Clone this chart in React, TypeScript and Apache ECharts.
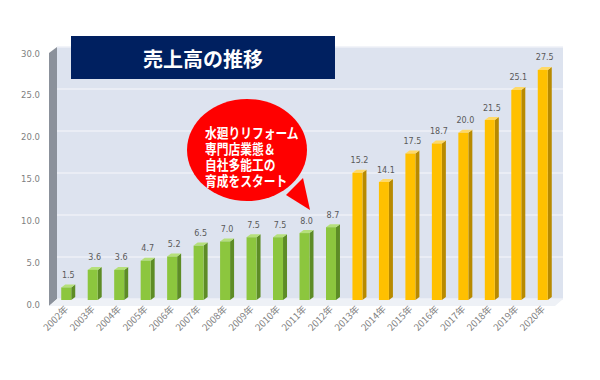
import React, { useEffect, useRef } from "react";
import * as echarts from "echarts";

const categories = ["2002年","2003年","2004年","2005年","2006年","2007年","2008年","2009年","2010年","2011年","2012年","2013年","2014年","2015年","2016年","2017年","2018年","2019年","2020年"];
const sales = [1.5, 3.6, 3.6, 4.7, 5.2, 6.5, 7.0, 7.5, 7.5, 8.0, 8.7, 15.2, 14.1, 17.5, 18.7, 20.0, 21.5, 25.1, 27.5];
const greenUntil = 11; // first 11 years green, rest orange
const yTicks = [0, 5, 10, 15, 20, 25, 30];
const title = "売上高の推移";
const bubbleLines = ["水廻りリフォーム", "専門店業態＆", "自社多能工の", "育成をスタート"];

const FONT = "'Noto Sans CJK JP', 'Noto Sans', sans-serif";

export default function App() {
  const ref = useRef<HTMLDivElement>(null);
  useEffect(() => {
    document.body.style.margin = "0";
    const chart = echarts.init(ref.current!, null, { renderer: "svg" });
    const palettes = {
      green: { front: "#8cc63e", side: "#5d8c26", top: "#b5e07a" },
      orange: { front: "#ffc000", side: "#b88a00", top: "#ffd966" },
    };
    const option: any = {
      animation: false,
      backgroundColor: "#ffffff",
      textStyle: { fontFamily: FONT },
      grid: [
        { left: 57, right: 37, top: 47, bottom: 81, show: true, backgroundColor: "#dde3ef", borderWidth: 0 },
        { left: 53, right: 44, top: 49, bottom: 80 },
      ],
      xAxis: [
        { gridIndex: 0, type: "category", data: categories, show: false },
        {
          gridIndex: 1,
          type: "category",
          data: categories,
          axisLine: { show: false },
          axisTick: { show: false },
          axisLabel: { rotate: 45, fontSize: 9.5, color: "#7f7f7f", margin: 7, interval: 0, fontFamily: FONT },
        },
      ],
      yAxis: [
        {
          gridIndex: 0, type: "value", min: 0, max: 30, interval: 5,
          axisLabel: { show: false }, axisLine: { show: false }, axisTick: { show: false },
          splitLine: { show: true, lineStyle: { color: "#eef1f7", width: 1.5 } },
        },
        {
          gridIndex: 1, type: "value", min: yTicks[0], max: yTicks[yTicks.length - 1], interval: 5,
          axisLine: { show: false }, axisTick: { show: false }, splitLine: { show: false },
          axisLabel: {
            fontSize: 8.5, color: "#7f7f7f", margin: 13, verticalAlign: "top",
            formatter: (v: number) => v.toFixed(1), fontFamily: "'DejaVu Sans', sans-serif",
          },
        },
      ],
      series: [
        {
          type: "custom",
          xAxisIndex: 1,
          yAxisIndex: 1,
          data: sales.map((v, i) => [i, v]),
          renderItem: (params: any, api: any) => {
            const idx = api.value(0);
            const val = api.value(1);
            const top = api.coord([idx, val]);
            const base = api.coord([idx, 0]);
            const w = 10;
            const dx = 4;
            const dy = 3;
            const x0 = top[0] - w / 2;
            const x1 = top[0] + w / 2;
            const pal = idx < greenUntil ? palettes.green : palettes.orange;
            return {
              type: "group",
              children: [
                {
                  type: "polygon",
                  shape: { points: [[x1, top[1]], [x1 + dx, top[1] - dy], [x1 + dx, base[1] - dy], [x1, base[1]]] },
                  style: { fill: pal.side },
                },
                {
                  type: "polygon",
                  shape: { points: [[x0, top[1]], [x0 + dx, top[1] - dy], [x1 + dx, top[1] - dy], [x1, top[1]]] },
                  style: { fill: pal.top },
                },
                {
                  type: "rect",
                  shape: { x: x0, y: top[1], width: w, height: base[1] - top[1] },
                  style: { fill: pal.front },
                },
                {
                  type: "text",
                  x: top[0] + 2,
                  y: top[1] - 12,
                  style: {
                    text: val.toFixed(1), fill: "#595959", fontSize: 8,
                    fontFamily: "'DejaVu Sans', sans-serif", align: "center", verticalAlign: "middle",
                  },
                },
              ],
            };
          },
        },
      ],
      graphic: [
        {
          type: "polygon", z: 0,
          shape: { points: [[49, 53], [57, 47], [57, 299], [49, 306]] },
          style: { fill: "#8b919b" },
        },
        {
          type: "polygon", z: 0,
          shape: { points: [[49, 306], [57, 299], [563, 299], [555, 306]] },
          style: { fill: "#eef1f6" },
        },
        {
          type: "rect", z: 10,
          shape: { x: 71, y: 36, width: 264, height: 43 },
          style: { fill: "#002060" },
        },
        {
          type: "text", z: 11, x: 203, y: 58,
          style: {
            text: title, fill: "#ffffff", fontSize: 20, fontWeight: "bold", fontFamily: FONT,
            align: "center", verticalAlign: "middle",
          },
        },
        {
          type: "polygon", z: 10,
          shape: { points: [[286, 195], [303, 178], [310, 210]] },
          style: { fill: "#ff0000" },
        },
        {
          type: "ellipse", z: 10,
          shape: { cx: 247, cy: 150, rx: 60, ry: 51 },
          style: { fill: "#ff0000" },
        },
        {
          type: "text", z: 11, x: 205, y: 124, scaleX: 0.84,
          style: {
            text: bubbleLines.join("\n"), fill: "#ffffff", fontSize: 14, lineHeight: 16,
            fontWeight: "bold", fontFamily: FONT, align: "left", verticalAlign: "top",
          },
        },
      ],
    };
    chart.setOption(option);
    return () => chart.dispose();
  }, []);
  return <div ref={ref} style={{ width: 600, height: 380 }} />;
}
